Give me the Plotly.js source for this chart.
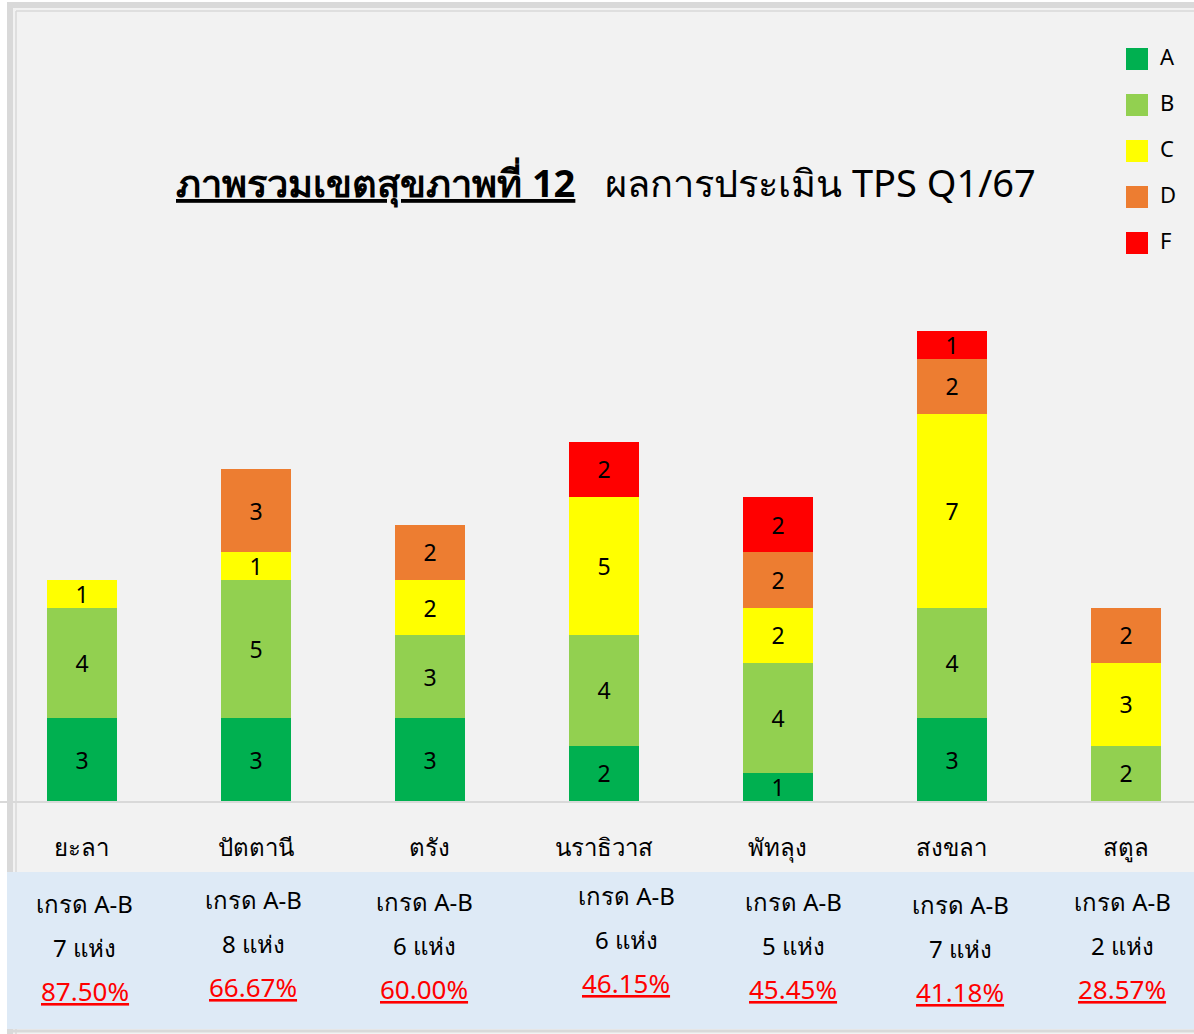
<!DOCTYPE html>
<html>
<head>
<meta charset="utf-8">
<script src="https://cdn.plot.ly/plotly-3.0.1.min.js"></script>
<style>
  html, body { margin: 0; padding: 0; background: #ffffff; }
  #chart { width: 1194px; height: 1034px; }
</style>
</head>
<body>
<div id="chart"></div>
<script>
// ---- data ----
const provinces = ['ยะลา', 'ปัตตานี', 'ตรัง', 'นราธิวาส', 'พัทลุง', 'สงขลา', 'สตูล'];
const grades = ['A', 'B', 'C', 'D', 'F'];
const gradeA = [3, 3, 3, 2, 1, 3, 0];
const gradeB = [4, 5, 3, 4, 4, 4, 2];
const gradeC = [1, 1, 2, 5, 2, 7, 3];
const gradeD = [0, 3, 2, 0, 2, 2, 2];
const gradeF = [0, 0, 0, 2, 2, 1, 0];
const countAB = [7, 8, 6, 6, 5, 7, 2];
const pctAB = ['87.50%', '66.67%', '60.00%', '46.15%', '45.45%', '41.18%', '28.57%'];
const titleMain = 'ภาพรวมเขตสุขภาพที่ 12';
const titleSub = 'ผลการประเมิน TPS Q1/67';
const gradeLabel = 'เกรด A-B';
const unitLabel = 'แห่ง';

// ---- styles ----
const colors = ['#00b050', '#92d050', '#ffff00', '#ed7d31', '#ff0000'];
const series = [gradeA, gradeB, gradeC, gradeD, gradeF];
const FONT = 'Tahoma, "Noto Sans", "DejaVu Sans", sans-serif';
const W = 1194, H = 1034, BASE = 801;
const py = p => (BASE - p) / BASE;   // page pixel y -> paper y
const px = p => p / W;               // page pixel x -> paper x

const traces = series.map((vals, i) => ({
  type: 'bar',
  name: grades[i],
  x: provinces,
  y: vals,
  text: vals.map(v => v ? String(v) : ''),
  textposition: 'inside',
  insidetextanchor: 'middle',
  textangle: 0,
  constraintext: 'none',
  textfont: { family: FONT, size: 23, color: '#000000' },
  marker: { color: colors[i], line: { width: 0 } },
  width: 0.4,
  hoverinfo: 'x+y+name',
  showlegend: false
}));

const shapes = [
  // outer frame
  { type: 'rect', xref: 'paper', yref: 'paper', x0: px(10), x1: px(1210), y0: py(5), y1: py(1040),
    fillcolor: '#f2f2f2', line: { color: '#d9d9d9', width: 6 }, layer: 'below' },
  { type: 'line', xref: 'paper', yref: 'paper', x0: px(16), x1: px(16), y0: py(11), y1: py(1034),
    line: { color: '#d9d9d9', width: 1.5 }, layer: 'below' },
  { type: 'line', xref: 'paper', yref: 'paper', x0: px(16), x1: px(1200), y0: py(11), y1: py(11),
    line: { color: '#d9d9d9', width: 1.5 }, layer: 'below' },
  // blue info panel
  { type: 'rect', xref: 'paper', yref: 'paper', x0: px(7), x1: px(1200), y0: py(872), y1: py(1029),
    fillcolor: '#deeaf6', line: { width: 0 }, layer: 'below' },
  { type: 'line', xref: 'paper', yref: 'paper', x0: px(7), x1: px(1200), y0: py(1031), y1: py(1031),
    line: { color: '#d9d9d9', width: 3 }, layer: 'below' }
];

const annotations = [];
// title
annotations.push({
  xref: 'paper', yref: 'paper', x: px(606), y: py(182), xanchor: 'center', yanchor: 'middle',
  text: '<u><b>' + titleMain + '</b></u>   ' + titleSub, showarrow: false,
  font: { family: FONT, size: 38, color: '#000000' }
});
// legend (manual)
grades.forEach((g, i) => {
  const cy = 59 + i * 46;
  shapes.push({ type: 'rect', xref: 'paper', yref: 'paper',
    x0: px(1126), x1: px(1148), y0: py(cy - 11), y1: py(cy + 11),
    fillcolor: colors[i], line: { width: 0 } });
  annotations.push({ xref: 'paper', yref: 'paper', x: px(1158), y: py(cy - 3), xanchor: 'left', yanchor: 'middle',
    text: g, showarrow: false, font: { family: FONT, size: 22, color: '#000000' } });
});
// info panel per province
const colX = [85, 253, 424, 626, 793, 960, 1122];
const colY = [903, 899, 901, 895, 901, 904, 901];
provinces.forEach((p, i) => {
  const lines = [gradeLabel, countAB[i] + ' ' + unitLabel, '<u>' + pctAB[i] + '</u>'];
  lines.forEach((t, j) => {
    annotations.push({ xref: 'paper', yref: 'paper', x: px(colX[i]), y: py(colY[i] + j * 44),
      xanchor: 'center', yanchor: 'middle', text: t, showarrow: false,
      font: { family: FONT, size: j === 2 ? 26 : 24, color: j === 2 ? '#ff0000' : '#000000' } });
  });
});

const layout = {
  width: W, height: H,
  margin: { l: 0, r: 0, t: 0, b: H - BASE, pad: 0 },
  paper_bgcolor: '#ffffff',
  plot_bgcolor: 'rgba(0,0,0,0)',
  barmode: 'stack',
  showlegend: false,
  xaxis: {
    type: 'category',
    range: [-0.471, 6.391],
    showgrid: false, zeroline: false,
    showline: true, linecolor: '#d9d9d9', linewidth: 2,
    ticks: 'outside', ticklen: 24, tickcolor: 'rgba(0,0,0,0)',
    tickfont: { family: FONT, size: 24, color: '#000000' },
    fixedrange: true
  },
  yaxis: {
    range: [0, 801 / 27.64],
    visible: false, showgrid: false, zeroline: false, fixedrange: true
  },
  shapes: shapes,
  annotations: annotations
};

Plotly.newPlot('chart', traces, layout, { displayModeBar: false, staticPlot: true });
</script>
</body>
</html>
